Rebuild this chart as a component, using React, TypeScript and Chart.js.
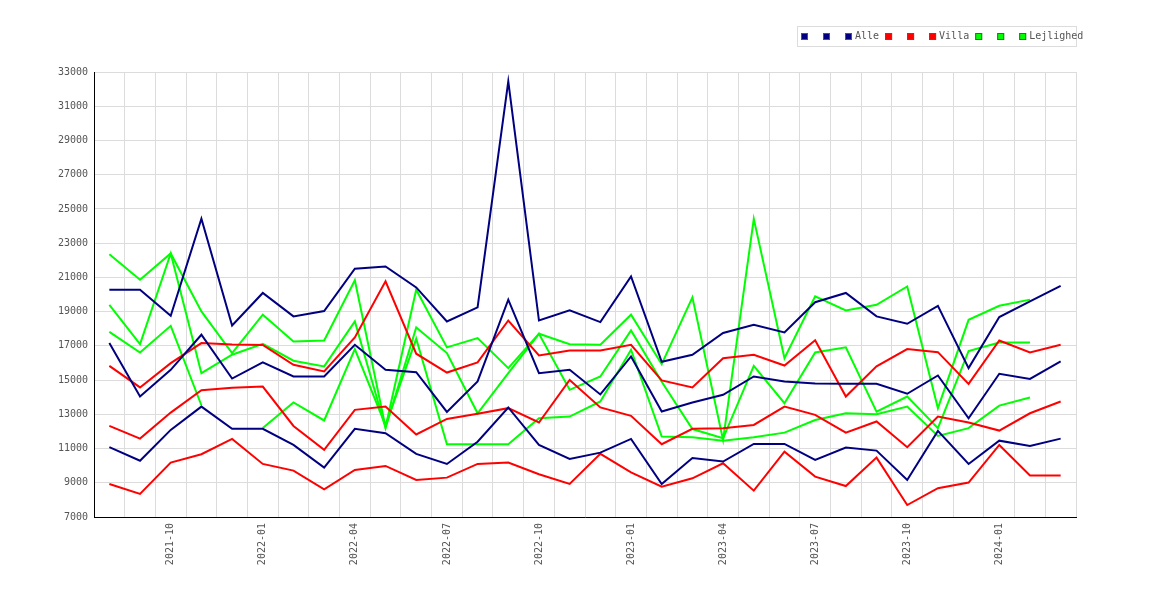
import { useEffect, useRef } from "react"
import { Chart, registerables } from "chart.js"

Chart.register(...registerables)

const months = [
  "2021-08", "2021-09", "2021-10", "2021-11", "2021-12",
  "2022-01", "2022-02", "2022-03", "2022-04", "2022-05", "2022-06",
  "2022-07", "2022-08", "2022-09", "2022-10", "2022-11", "2022-12",
  "2023-01", "2023-02", "2023-03", "2023-04", "2023-05", "2023-06",
  "2023-07", "2023-08", "2023-09", "2023-10", "2023-11", "2023-12",
  "2024-01", "2024-02", "2024-03",
]

const yTicks = { min: 7000, max: 33000, step: 2000 }

// Alle (navy)
const alleHigh = [20280, 20280, 18760, 24430, 18190, 20090, 18720, 19030, 21510, 21640, 20415, 18425, 19245, 32450, 18480, 19070, 18385, 21060, 16070, 16480, 17750, 18230, 17780, 19550, 20090, 18720, 18290, 19340, 15700, 18680, 19600, 20510]
const alleMid = [17160, 14040, 15600, 17650, 15090, 16030, 15210, 15210, 17060, 15600, 15460, 13140, 14920, 19700, 15400, 15600, 14160, 16380, 13160, 13690, 14140, 15210, 14920, 14800, 14780, 14780, 14200, 15270, 12770, 15370, 15070, 16090]
const alleLow = [11080, 10290, 12090, 13450, 12150, 12150, 11210, 9885, 12150, 11900, 10690, 10100, 11400, 13400, 11210, 10390, 10760, 11560, 8930, 10450, 10240, 11270, 11270, 10330, 11060, 10880, 9160, 12030, 10100, 11460, 11150, 11580]

// Villa (red)
const villaHigh = [15830, 14570, 15990, 17160, 17080, 17050, 15890, 15500, 17490, 20770, 16540, 15440, 16030, 18480, 16440, 16730, 16730, 17060, 14980, 14570, 16280, 16480, 15850, 17330, 14040, 15800, 16810, 16630, 14780, 17310, 16610, 17060]
const villaMid = [12320, 11580, 13100, 14410, 14550, 14620, 12320, 10920, 13260, 13450, 11820, 12730, 13030, 13360, 12520, 15010, 13400, 12910, 11250, 12150, 12190, 12380, 13450, 12970, 11930, 12580, 11080, 12870, 12520, 12050, 13060, 13750]
const villaLow = [8930, 8345, 10180, 10670, 11560, 10100, 9710, 8620, 9750, 9985, 9165, 9300, 10100, 10180, 9500, 8930, 10690, 9610, 8775, 9260, 10140, 8540, 10820, 9360, 8810, 10470, 7700, 8680, 9010, 11210, 9420, 9420]

// Lejlighed (green)
const lejlHigh = [22350, 20865, 22400, 19010, 16580, 18820, 17260, 17310, 20830, 12250, 20280, 16910, 17450, 15700, 17710, 17100, 17060, 18820, 15930, 19830, 11500, 24420, 16280, 19890, 19070, 19400, 20470, 13360, 18520, 19340, 19700, null]
const lejlMid = [19400, 17100, 22400, 15400, 16480, 17120, 16130, 15800, 18430, 12200, 18080, 16580, 13060, 15400, 17700, 14430, 15210, 17900, 14900, 12140, 11600, 15830, 13650, 16610, 16910, 13160, 14040, 12190, 16700, 17200, 17200, null]
const lejlLow = [17820, 16610, 18170, 13530, null, 12200, 13690, 12640, 16810, 12350, 17410, 11250, 11250, 11250, 12770, 12870, 13750, 16770, 11700, 11660, 11450, 11660, 11930, 12670, 13060, 13010, 13450, 11740, 12190, 13510, 13980, null]

const NAVY = "#000080"
const RED = "#ff0000"
const GREEN = "#00ff00"
const FONT = "DejaVu Sans Mono"

// draws the boxed legend in the top right corner
const boxLegend = {
  id: "boxLegend",
  afterDraw(chart: Chart) {
    const ctx = chart.ctx
    ctx.save()
    ctx.fillStyle = "#fff"
    ctx.fillRect(797, 26, 280, 21)
    ctx.strokeStyle = "#dcdcdc"
    ctx.lineWidth = 1
    ctx.strokeRect(797.5, 26.5, 279, 20)
    ctx.font = `10px "${FONT}"`
    ctx.textBaseline = "middle"
    const cy = 36.5
    let x = 801
    chart.data.datasets.forEach((ds: any) => {
      ctx.fillStyle = ds.borderColor
      ctx.fillRect(x, 33, 7, 7)
      ctx.strokeStyle = "#555"
      ctx.strokeRect(x + 0.5, 33.5, 6, 6)
      if (ds.label) {
        ctx.fillStyle = "#555"
        ctx.fillText(ds.label, x + 10, cy)
        x += 10 + ctx.measureText(ds.label).width + 6
      } else {
        x += 22
      }
    })
    ctx.restore()
  },
}

function line(label: string, data: (number | null)[], color: string) {
  return {
    label,
    data,
    borderColor: color,
    backgroundColor: color,
    borderWidth: 2,
    pointRadius: 0,
    tension: 0,
    fill: false,
  }
}

export default function App() {
  const canvasRef = useRef<HTMLCanvasElement>(null)
  const chartRef = useRef<Chart | null>(null)

  useEffect(() => {
    document.body.style.margin = "0"
    if (!canvasRef.current) return
    const ctx = canvasRef.current.getContext("2d")
    if (!ctx) return

    if (chartRef.current) chartRef.current.destroy()

    chartRef.current = new Chart(ctx, {
      type: "line",
      data: {
        labels: months,
        datasets: [
          line("", alleHigh, NAVY),
          line("", alleMid, NAVY),
          line("Alle", alleLow, NAVY),
          line("", villaHigh, RED),
          line("", villaMid, RED),
          line("Villa", villaLow, RED),
          line("", lejlHigh, GREEN),
          line("", lejlMid, GREEN),
          line("Lejlighed", lejlLow, GREEN),
        ],
      },
      options: {
        responsive: false,
        animation: false,
        layout: { padding: { top: 72, right: 94, left: 0, bottom: 0 } },
        plugins: {
          legend: { display: false },
          tooltip: { enabled: false },
        },
        scales: {
          x: {
            offset: true,
            grid: { offset: true, color: "#dcdcdc", drawTicks: false },
            border: { color: "#000", width: 1 },
            afterFit: (scale: any) => {
              scale.height = 83
            },
            ticks: {
              autoSkip: false,
              maxRotation: 90,
              minRotation: 90,
              padding: 6,
              color: "#555",
              font: { family: FONT, size: 10 },
              callback: (_v: any, i: number) => {
                const m = months[i].slice(5)
                return ["01", "04", "07", "10"].includes(m) ? months[i] : ""
              },
            },
          },
          y: {
            min: yTicks.min,
            max: yTicks.max,
            grid: { color: "#dcdcdc", drawTicks: false },
            border: { color: "#000", width: 1 },
            afterFit: (scale: any) => {
              scale.width = 94
            },
            ticks: {
              stepSize: yTicks.step,
              padding: 6,
              color: "#555",
              font: { family: FONT, size: 10 },
              callback: (v: any) => String(v),
            },
          },
        },
      },
      plugins: [boxLegend],
    })

    return () => {
      if (chartRef.current) {
        chartRef.current.destroy()
        chartRef.current = null
      }
    }
  }, [])

  return (
    <div style={{ width: 1170, height: 600, background: "#fff" }}>
      <canvas ref={canvasRef} width={1170} height={600} />
    </div>
  )
}
